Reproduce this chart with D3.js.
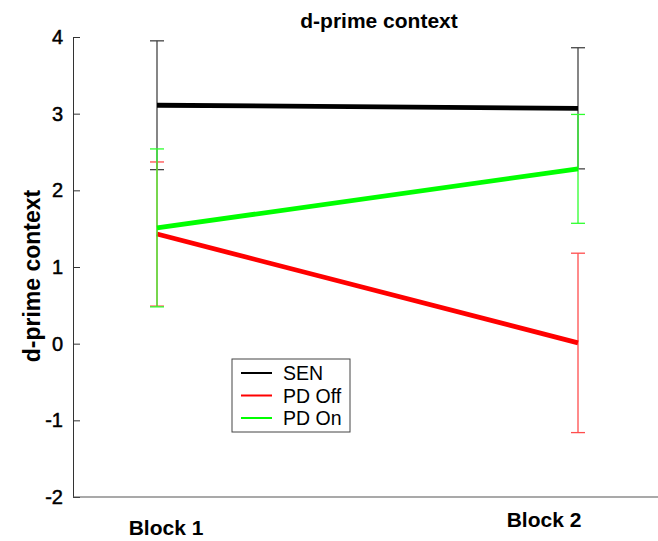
<!DOCTYPE html>
<html><head><meta charset="utf-8">
<script src="https://cdn.jsdelivr.net/npm/d3@7"></script>
<style>body{margin:0;background:#fff}svg{display:block}text{font-family:"Liberation Sans",Arial,sans-serif}</style>
</head><body><svg id="c" width="658" height="541"></svg>
<script>
const blocks = ["Block 1", "Block 2"];
const seriesNames = ["SEN", "PD Off", "PD On"];
const seriesColors = ["#000000", "#ff0000", "#00ff00"];
const errColors = ["#444444", "#ff4d4d", "#2eff2e"];
const senMean = [3.11, 3.07];
const senErr = [0.84, 0.79];
const pdOffMean = [1.43, 0.01];
const pdOffErr = [0.94, 1.17];
const pdOnMean = [1.51, 2.28];
const pdOnErr = [1.03, 0.71];
const yTicks = [-2, -1, 0, 1, 2, 3, 4];

const means = [senMean, pdOffMean, pdOnMean];
const errs = [senErr, pdOffErr, pdOnErr];

const svg = d3.select("#c");
const x = d3.scalePoint().domain(blocks).range([157, 578]);
const y = d3.scaleLinear().domain([-2, 4]).range([497, 37]);
const left = 73, right = 658;

// axes
const ya = svg.append("g").attr("transform", `translate(${left},0)`)
  .call(d3.axisLeft(y).tickValues(yTicks).tickSizeInner(-7).tickSizeOuter(0).tickPadding(10).tickFormat(d => String(d)));
ya.select(".domain").attr("stroke", "#333");
ya.selectAll(".tick line").attr("stroke", "#333");
ya.selectAll(".tick text").attr("font-size", 20).attr("fill", "#000").attr("stroke", "#000").attr("stroke-width", 0.5);

svg.append("line").attr("x1", left).attr("x2", right).attr("y1", y(-2)).attr("y2", y(-2)).attr("stroke", "#555").attr("stroke-width", 1.2);

// x labels
const xLabelDy = [38, 30];
svg.selectAll(".xl").data(blocks).enter().append("text")
  .attr("x", (d, i) => x(d) + (i === 0 ? 9 : -34))
  .attr("y", (d, i) => y(-2) + xLabelDy[i])
  .attr("text-anchor", "middle").attr("font-size", 21).attr("font-weight", "bold").text(d => d);

// title
svg.append("text").attr("x", 379).attr("y", 28).attr("text-anchor", "middle")
  .attr("font-size", 21).attr("font-weight", "bold").text("d-prime context");
// y label
svg.append("text").attr("transform", `translate(40,276) rotate(-90)`).attr("text-anchor", "middle")
  .attr("font-size", 23).attr("font-weight", "bold").text("d-prime context");

// draw series: lines then error bars (order: SEN, PD Off, PD On)
const line = d3.line().x((d, i) => x(blocks[i])).y(d => y(d));
const capW = 7;
seriesNames.forEach((s, k) => {
  const g = svg.append("g");
  blocks.forEach((b, i) => {
    const m = means[k][i], e = errs[k][i];
    g.append("line").attr("x1", x(b)).attr("x2", x(b)).attr("y1", y(m + e)).attr("y2", y(m - e))
      .attr("stroke", errColors[k]).attr("stroke-width", 1.3);
    [m + e, m - e].forEach(v => g.append("line").attr("x1", x(b) - capW).attr("x2", x(b) + capW)
      .attr("y1", y(v)).attr("y2", y(v)).attr("stroke", errColors[k]).attr("stroke-width", 1.3));
  });
  g.append("path").datum(means[k]).attr("d", line).attr("fill", "none")
    .attr("stroke", seriesColors[k]).attr("stroke-width", 4.8);
});

// legend
const lg = svg.append("g").attr("transform", "translate(232,359)");
lg.append("rect").attr("width", 118).attr("height", 73).attr("fill", "#fff").attr("stroke", "#444").attr("stroke-width", 1);
seriesNames.forEach((s, k) => {
  const yy = 14 + k * 22.5;
  lg.append("line").attr("x1", 9).attr("x2", 40).attr("y1", yy).attr("y2", yy).attr("stroke", seriesColors[k]).attr("stroke-width", 2);
  lg.append("text").attr("x", 51).attr("y", yy + 7).attr("font-size", 19.5).text(s);
});
</script></body></html>
